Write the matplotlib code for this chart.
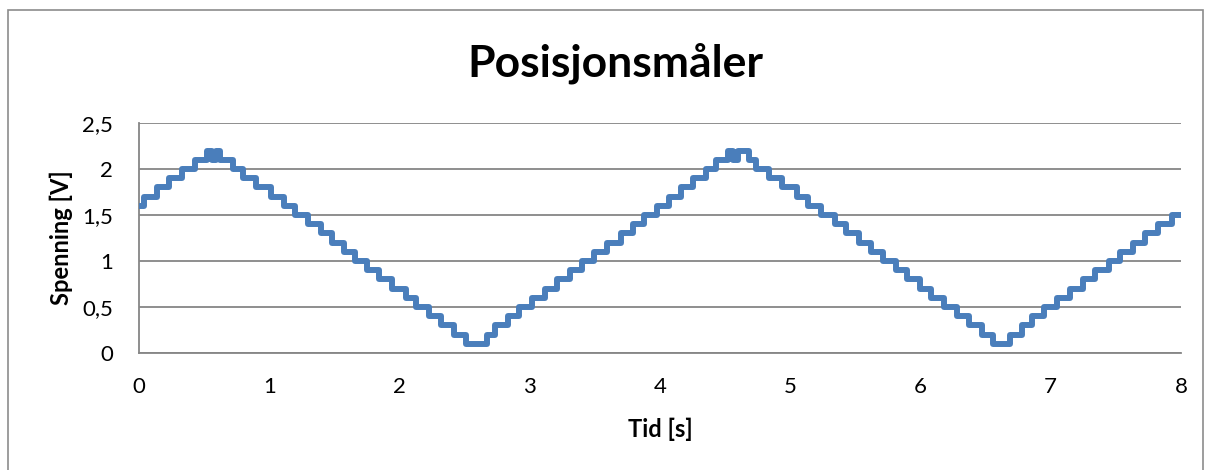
import matplotlib.pyplot as plt
from matplotlib.patches import Rectangle

# times (s) where the measured level changes, and the level (V) held from that time
t_change = [0.00, 0.04, 0.14, 0.23, 0.33, 0.43, 0.52, 0.56, 0.59, 0.62,
            0.72, 0.80, 0.90, 1.01, 1.11, 1.20, 1.30, 1.40, 1.48, 1.57,
            1.66, 1.75, 1.84, 1.94, 2.05, 2.13, 2.23, 2.32, 2.42, 2.51,
            2.67, 2.73, 2.83, 2.92, 3.02, 3.12, 3.21, 3.31, 3.40, 3.49,
            3.59, 3.70, 3.79, 3.88, 3.98, 4.07, 4.16, 4.25, 4.35, 4.43,
            4.52, 4.56, 4.60, 4.68, 4.74, 4.84, 4.94, 5.05, 5.14, 5.24,
            5.34, 5.43, 5.53, 5.62, 5.71, 5.81, 5.90, 6.00, 6.08, 6.18,
            6.28, 6.37, 6.47, 6.56, 6.69, 6.78, 6.86, 6.95, 7.05, 7.15,
            7.25, 7.34, 7.45, 7.53, 7.63, 7.72, 7.82, 7.93, 8.00]
v_level = [1.6, 1.7, 1.8, 1.9, 2.0, 2.1, 2.2, 2.1, 2.2, 2.1,
           2.0, 1.9, 1.8, 1.7, 1.6, 1.5, 1.4, 1.3, 1.2, 1.1,
           1.0, 0.9, 0.8, 0.7, 0.6, 0.5, 0.4, 0.3, 0.2, 0.1,
           0.2, 0.3, 0.4, 0.5, 0.6, 0.7, 0.8, 0.9, 1.0, 1.1,
           1.2, 1.3, 1.4, 1.5, 1.6, 1.7, 1.8, 1.9, 2.0, 2.1,
           2.2, 2.1, 2.2, 2.1, 2.0, 1.9, 1.8, 1.7, 1.6, 1.5,
           1.4, 1.3, 1.2, 1.1, 1.0, 0.9, 0.8, 0.7, 0.6, 0.5,
           0.4, 0.3, 0.2, 0.1, 0.2, 0.3, 0.4, 0.5, 0.6, 0.7,
           0.8, 0.9, 1.0, 1.1, 1.2, 1.3, 1.4, 1.5, 1.5]

x_ticks = [0, 1, 2, 3, 4, 5, 6, 7, 8]
y_ticks = [0, 0.5, 1, 1.5, 2, 2.5]
y_tick_labels = ['0', '0,5', '1', '1,5', '2', '2,5']

plt.rcParams['font.family'] = ['Lato', 'DejaVu Sans']

fig = plt.figure(figsize=(12.12, 4.70), dpi=100)
ax = fig.add_axes([0.1147, 0.2489, 0.8597, 0.4894])

# chart border
fig.patches.append(Rectangle((8 / 1212, -0.01), 1195 / 1212, 1 - 10 / 470 + 0.01,
                             transform=fig.transFigure, fill=False,
                             edgecolor='#8c8c8c', linewidth=1.2))

ax.step(t_change, v_level, where='post', color='#4a7ebb', linewidth=4.3,
        solid_joinstyle='round', solid_capstyle='round', zorder=3)

ax.set_xlim(0, 8)
ax.set_ylim(0, 2.5)
ax.set_xticks(x_ticks)
ax.set_xticklabels([str(x) for x in x_ticks], fontsize=16)
ax.set_yticks(y_ticks)
ax.set_yticklabels(y_tick_labels, fontsize=16)
ax.tick_params(axis='x', length=0, pad=17)
ax.tick_params(axis='y', length=0, pad=18.5)

ax.grid(axis='y', color='#868686', linewidth=1.3)
ax.set_axisbelow(True)
for side in ['top', 'right']:
    ax.spines[side].set_visible(False)
for side in ['left', 'bottom']:
    ax.spines[side].set_color('#868686')
    ax.spines[side].set_linewidth(1.3)

ax.set_xlabel('Tid [s]', fontsize=17, fontweight='bold', labelpad=15)
ax.set_ylabel('Spenning [V]', fontsize=17, fontweight='bold', labelpad=7)
fig.text(0.508, 0.866, 'Posisjonsmåler', fontsize=32, fontweight='bold',
         ha='center', va='center')

fig.savefig('out.png', dpi=100)
